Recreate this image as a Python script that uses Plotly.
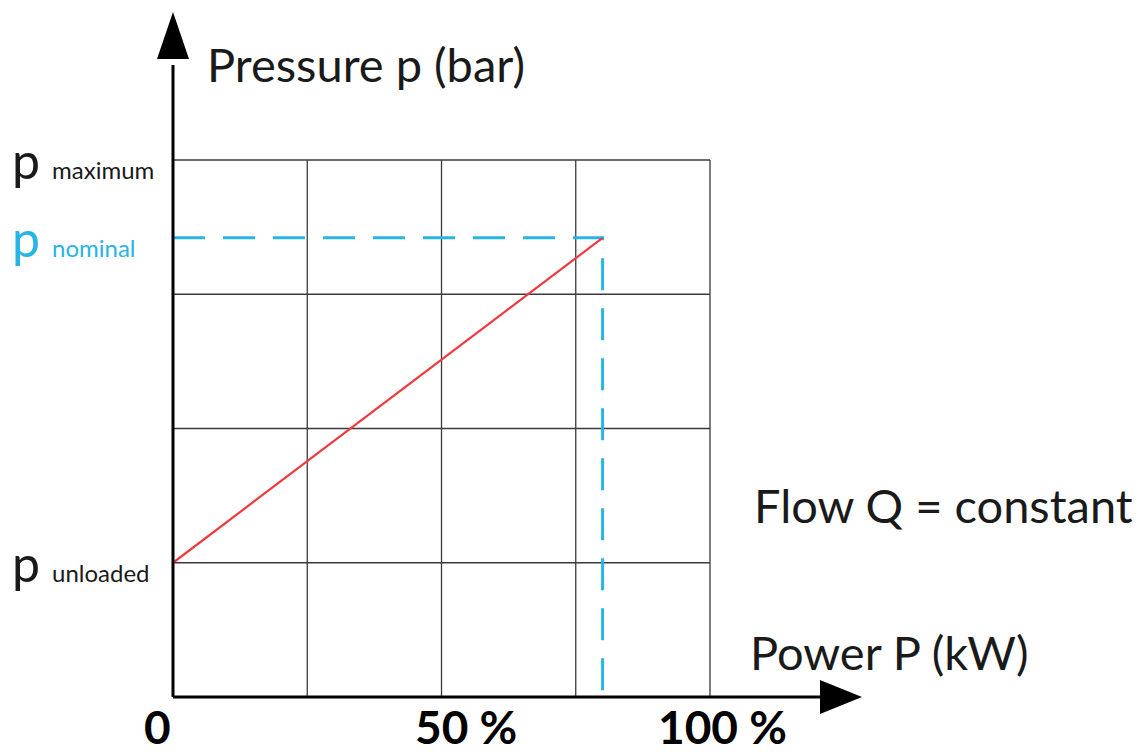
import plotly.graph_objects as go

# ---- data ----
power_grid_pct = [0, 25, 50, 75, 100]          # vertical grid positions (% power)
pressure_grid = [0, 1, 2, 3, 4]                # horizontal grid levels
x_tick_values = [0, 50, 100]
x_tick_labels = ["0", "50 %", "100 %"]
p_labels = ["maximum", "nominal", "unloaded"]
p_values = [4.0, 3.42, 1.0]
p_colors = ["#1a1a1a", "#29b4e6", "#1a1a1a"]
line_power = [0, 80]                           # red characteristic, % power
line_pressure = [1.0, 3.42]
nominal_power = 80
nominal_pressure = 3.42

# ---- pixel geometry helpers (page has an 8px body margin) ----
OFF = 8
W, H = 1143 - OFF, 755 - OFF
X0_PX, X100_PX = 173 - OFF, 710 - OFF
Y0_PX, Y4_PX = 697 - OFF, 160 - OFF
sx = (X100_PX - X0_PX) / 100.0
sy = (Y0_PX - Y4_PX) / 4.0
x_range = [-X0_PX / sx, (W - X0_PX) / sx]
y_range = [-(H - Y0_PX) / sy, Y0_PX / sy]


def px_x(p):
    return (p - OFF - X0_PX) / sx


def px_y(p):
    return (Y0_PX - (p - OFF)) / sy


FONT = "Lato"
fig = go.Figure()

# grid lines
gx_max = power_grid_pct[-1]
gy_max = pressure_grid[-1]
for gx in power_grid_pct[1:]:
    fig.add_trace(go.Scatter(x=[gx, gx], y=[0, gy_max], mode="lines",
                             line=dict(color="#3a3a3a", width=1.3), hoverinfo="skip"))
for gy in pressure_grid[1:]:
    fig.add_trace(go.Scatter(x=[0, gx_max], y=[gy, gy], mode="lines",
                             line=dict(color="#3a3a3a", width=1.3), hoverinfo="skip"))

# nominal dashed guides
fig.add_trace(go.Scatter(x=[0, nominal_power, nominal_power],
                         y=[nominal_pressure, nominal_pressure, 0],
                         mode="lines",
                         line=dict(color="#29b4e6", width=3, dash="32px,18px"),
                         hoverinfo="skip"))

# red characteristic line
fig.add_trace(go.Scatter(x=line_power, y=line_pressure, mode="lines",
                         line=dict(color="#ee3a3f", width=2.2), hoverinfo="skip"))

# axes
y_axis_top = px_y(65)
x_axis_end = px_x(822)
fig.add_trace(go.Scatter(x=[0, 0], y=[0, y_axis_top], mode="lines",
                         line=dict(color="black", width=3), hoverinfo="skip"))
fig.add_trace(go.Scatter(x=[0, x_axis_end], y=[0, 0], mode="lines",
                         line=dict(color="black", width=3), hoverinfo="skip"))

# arrow heads
hw = 16 / sx
fig.add_shape(type="path",
              path=f"M {-hw},{px_y(59)} L {hw},{px_y(59)} L 0,{px_y(12)} Z",
              fillcolor="black", line=dict(width=0))
hh = 17 / sy
fig.add_shape(type="path",
              path=f"M {px_x(820)},{hh} L {px_x(820)},{-hh} L {px_x(862)},0 Z",
              fillcolor="black", line=dict(width=0))

# y labels
for lab, val, col in zip(p_labels, p_values, p_colors):
    fig.add_annotation(x=px_x(10), y=val, xanchor="left", yanchor="middle",
                       text=f"p<span style='font-size:24px'>&#8194;{lab}</span>",
                       showarrow=False, yshift=0,
                       font=dict(family=FONT, size=50, color=col))

# x tick labels
shifts = [-16, 24, 12]
for v, lab, s in zip(x_tick_values, x_tick_labels, shifts):
    fig.add_annotation(x=v, y=0, xanchor="center", yanchor="top", yshift=0, xshift=s,
                       text=f"<b>{lab}</b>", showarrow=False,
                       font=dict(family=FONT, size=46, color="black"))

# titles
fig.add_annotation(x=px_x(205), y=px_y(64), xanchor="left", yanchor="middle",
                   text="Pressure p (bar)", showarrow=False,
                   font=dict(family=FONT, size=47, color="#1a1a1a"))
fig.add_annotation(x=px_x(748), y=px_y(652), xanchor="left", yanchor="middle",
                   text="Power P (kW)", showarrow=False,
                   font=dict(family=FONT, size=47, color="#1a1a1a"))
fig.add_annotation(x=px_x(752), y=px_y(505), xanchor="left", yanchor="middle",
                   text="Flow Q = constant", showarrow=False,
                   font=dict(family=FONT, size=47, color="#1a1a1a"))

fig.update_layout(
    width=W, height=H,
    margin=dict(l=0, r=0, t=0, b=0),
    paper_bgcolor="white", plot_bgcolor="white",
    showlegend=False,
    xaxis=dict(range=x_range, visible=False, fixedrange=True),
    yaxis=dict(range=y_range, visible=False, fixedrange=True),
)

fig.write_html("out.html")
